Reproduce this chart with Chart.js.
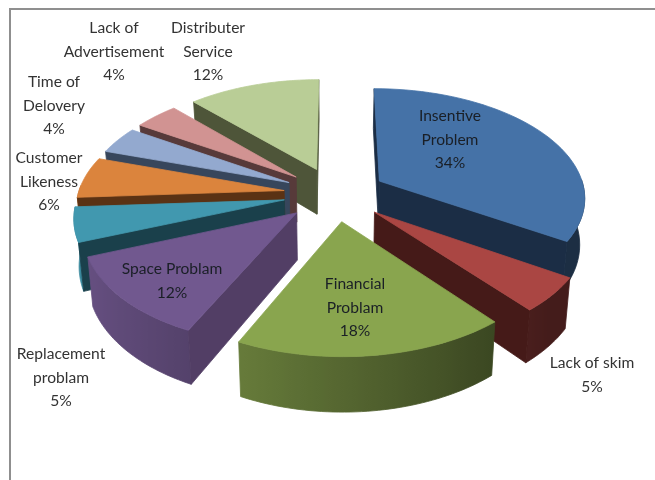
<!DOCTYPE html>
<html>
<head>
<meta charset="utf-8">
<title>Problems</title>
<script src="https://cdn.jsdelivr.net/npm/chart.js@4"></script>
<style>
  html, body { margin: 0; background: #fff; }
  canvas { display: block; }
</style>
</head>
<body>
<canvas id="pieChart" width="655" height="480"></canvas>
<script>
// chart data
const categories = [
  ["Insentive", "Problem"],
  ["Lack of skim"],
  ["Financial", "Problam"],
  ["Space Problam"],
  ["Replacement", "problam"],
  ["Customer", "Likeness"],
  ["Time of", "Delovery"],
  ["Lack of", "Advertisement"],
  ["Distributer", "Service"],
];
const shares = [34, 5, 18, 12, 5, 6, 4, 4, 12];

// colours per slice
const faceColors = ["#4572a7", "#aa4643", "#89a54e", "#71588f", "#4198af", "#db843d", "#93a9cf", "#d19392", "#b9cd96"];
const wallColors = ["#1b2d45", "#451a18", "#38421c", "#523e65", "#1a404b", "#5a3214", "#37465c", "#573a3a", "#4e5539"];

// text placement: centre x, middle of first line y
const labelSpots = [
  [450, 116], [592, 363], [355, 284], [172, 269], [61, 354], [49, 158], [54, 82], [114, 28], [208, 28],
];

// slices are painted back to front
const paintOrder = [8, 7, 6, 5, 4, 3, 0, 1, 2];

// fake 3d settings, all relative to the pie radius
const explosion = 0.25;
const widthScale = 0.858;
const heightScale = 0.451;
const liftUp = 0.192;
const depth = 0.192;
const perspective = 0.136;
const bottomShrink = 0.98;

function project(arc, u, v, isBottom) {
  const s = 1 / (1 - perspective * v);
  const R = arc.outerRadius;
  const shrink = isBottom ? bottomShrink : 1;
  return {
    x: arc.x + u * R * widthScale * s * shrink,
    y: arc.y - liftUp * R + v * R * heightScale * s + (isBottom ? depth * R * s : 0),
  };
}

function shadeColor(hex, f) {
  const n = parseInt(hex.slice(1), 16);
  const r = Math.round(((n >> 16) & 255) * f);
  const g = Math.round(((n >> 8) & 255) * f);
  const b = Math.round((n & 255) * f);
  return `rgb(${r},${g},${b})`;
}

function fillPoly(ctx, pts, color) {
  ctx.beginPath();
  pts.forEach((p, i) => (i ? ctx.lineTo(p.x, p.y) : ctx.moveTo(p.x, p.y)));
  ctx.closePath();
  ctx.fillStyle = color;
  ctx.strokeStyle = color; // hides hairlines between neighbouring walls
  ctx.lineWidth = 0.8;
  ctx.lineJoin = "round";
  ctx.fill();
  ctx.stroke();
}

function signedArea(pts) {
  let sum = 0;
  pts.forEach((p, i) => {
    const q = pts[(i + 1) % pts.length];
    sum += p.x * q.y - q.x * p.y;
  });
  return sum;
}

// outer wall with a left to right shade, only the part that faces the viewer
function drawRim(ctx, arc, rim, i) {
  const front = rim.filter((p) => p.s > -0.05);
  if (front.length < 2) return;
  const tops = front.map((p) => project(arc, p.u, p.v, false));
  const bottoms = front.map((p) => project(arc, p.u, p.v, true));
  const xs = tops.map((p) => p.x);
  const x0 = Math.min(...xs);
  const x1 = Math.max(...xs);
  const grad = ctx.createLinearGradient(x0, 0, x1 + 0.01, 0);
  front.forEach((p, k) => {
    const f = Math.min(0.9, Math.max(0.4, 0.62 - 0.3 * p.c));
    grad.addColorStop((xs[k] - x0) / (x1 + 0.01 - x0), shadeColor(faceColors[i], f));
  });
  fillPoly(ctx, tops.concat(bottoms.reverse()), grad);
}

function drawSlice(ctx, arc, i) {
  const mid = (arc.startAngle + arc.endAngle) / 2;
  const ex = Math.cos(mid) * explosion;
  const ey = Math.sin(mid) * explosion;
  const rim = [];
  const steps = 48;
  for (let k = 0; k <= steps; k++) {
    const a = arc.startAngle + ((arc.endAngle - arc.startAngle) * k) / steps;
    rim.push({ u: ex + Math.cos(a), v: ey + Math.sin(a), c: Math.cos(a), s: Math.sin(a) });
  }

  drawRim(ctx, arc, rim, i);

  // radial walls, skip the ones turned away from the viewer
  [rim[0], rim[steps]].forEach((p, n) => {
    const quad = [
      project(arc, ex, ey, false),
      project(arc, p.u, p.v, false),
      project(arc, p.u, p.v, true),
      project(arc, ex, ey, true),
    ];
    const area = signedArea(quad);
    if ((n === 0 && area < 0) || (n === 1 && area > 0)) {
      fillPoly(ctx, quad, wallColors[i]);
    }
  });

  // top face
  const top = [project(arc, ex, ey, false)];
  rim.forEach((p) => top.push(project(arc, p.u, p.v, false)));
  fillPoly(ctx, top, faceColors[i]);
}

const tiltedPie = {
  id: "tiltedPie",
  beforeDatasetsDraw(chart) {
    const ctx = chart.ctx;
    const arcs = chart.getDatasetMeta(0).data;

    // frame, only top and left show
    ctx.save();
    ctx.strokeStyle = "#8f8f8f";
    ctx.lineWidth = 2;
    ctx.beginPath();
    ctx.moveTo(10, 480);
    ctx.lineTo(10, 9);
    ctx.lineTo(655, 9);
    ctx.stroke();

    paintOrder.forEach((i) => drawSlice(ctx, arcs[i], i));

    // labels
    ctx.font = "15.6px Lato, Carlito, sans-serif";
    ctx.textAlign = "center";
    ctx.textBaseline = "middle";
    categories.forEach((lines, i) => {
      const onFace = i === 0 || i === 2 || i === 3;
      ctx.fillStyle = onFace ? "#1a1f26" : "#333333";
      const text = lines.concat(shares[i] + "%");
      text.forEach((line, n) => {
        ctx.fillText(line, labelSpots[i][0], labelSpots[i][1] + n * 23.6);
      });
    });
    ctx.restore();
    return false; // the slices are already painted
  },
};

new Chart(document.getElementById("pieChart"), {
  type: "pie",
  data: {
    labels: categories,
    datasets: [{ data: shares, backgroundColor: faceColors, borderWidth: 0 }],
  },
  options: {
    responsive: false,
    animation: false,
    layout: { padding: { left: 15 } },
    plugins: {
      legend: { display: false },
      tooltip: { enabled: false },
    },
  },
  plugins: [tiltedPie],
});
</script>
</body>
</html>
